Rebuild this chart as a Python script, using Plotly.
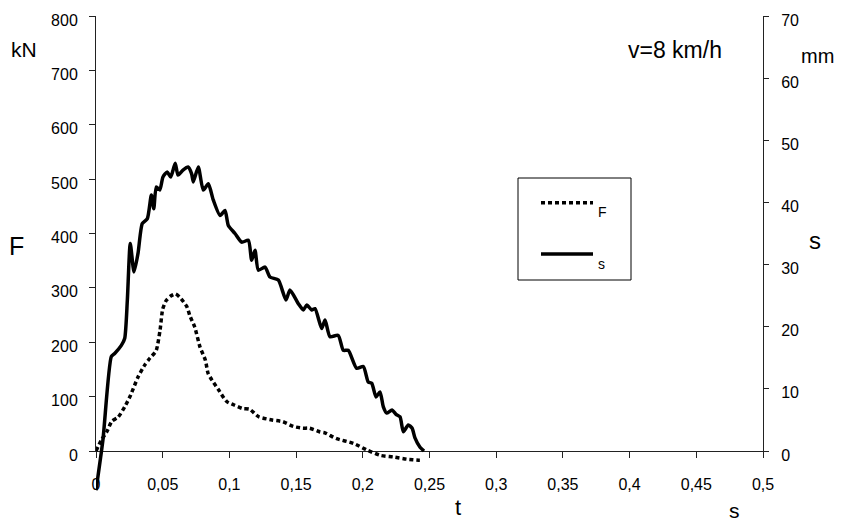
import plotly.graph_objects as go

# idő (s) és erő (kN) - szaggatott görbe
t_F = [0, 0.004, 0.008, 0.012, 0.0165, 0.0215, 0.026, 0.0315, 0.0365, 0.0405,
       0.045, 0.048, 0.050, 0.0527, 0.056, 0.0596, 0.0627, 0.068, 0.0705, 0.074,
       0.078, 0.082, 0.084, 0.087, 0.092, 0.098, 0.104, 0.110, 0.115, 0.122,
       0.132, 0.140, 0.148, 0.155, 0.160, 0.168, 0.172, 0.180, 0.193, 0.203,
       0.213, 0.223, 0.233, 0.242, 0.245]
F_kN = [0, 20, 35, 55, 62, 81, 103, 136, 158, 171,
        184, 222, 261, 277, 285, 289, 283, 266, 248, 228,
        191, 167, 143, 130, 112, 91, 84, 78, 77, 63,
        57, 54, 45, 42, 42, 35, 33, 23, 14, 2,
        -8, -11, -15, -17, -17]

# idő (s) és elmozdulás (mm) - folytonos görbe
t_s = [0, 0.0052, 0.0115, 0.014, 0.019, 0.0215, 0.0235, 0.0257, 0.0285, 0.0315,
       0.0347, 0.0385, 0.0415, 0.0433, 0.0452, 0.0478, 0.0502, 0.0534, 0.056, 0.0594,
       0.0615, 0.0652, 0.069, 0.0717, 0.0729, 0.0767, 0.0804, 0.0842, 0.0879, 0.093,
       0.0967, 0.0992, 0.1042, 0.1092, 0.1142, 0.1167, 0.1192, 0.1217, 0.1267, 0.1304,
       0.1367, 0.1424, 0.1454, 0.1517, 0.1554, 0.158, 0.1617, 0.1642, 0.1692, 0.1717,
       0.1754, 0.1816, 0.1854, 0.1891, 0.1954, 0.2004, 0.2041, 0.2067, 0.2099, 0.2129,
       0.2154, 0.2179, 0.2219, 0.2249, 0.2279, 0.2304, 0.2341, 0.2369, 0.2391, 0.2429,
       0.2459]
s_mm = [-6.3, 1.8, 15.2, 15.7, 17.0, 18.1, 24.3, 33.4, 28.8, 31.8,
        36.6, 37.4, 41.2, 39.0, 42.5, 42.0, 44.1, 44.9, 44.1, 46.3,
        44.4, 45.2, 45.7, 44.6, 43.3, 45.7, 42.0, 43.0, 40.4, 37.9,
        38.7, 36.3, 35.0, 33.6, 33.9, 30.7, 32.3, 29.1, 29.6, 28.0,
        27.5, 24.3, 25.9, 23.7, 22.7, 23.5, 22.7, 22.9, 19.7, 21.1,
        18.4, 18.6, 16.2, 16.2, 13.3, 13.6, 11.1, 10.9, 8.7, 9.5,
        7.1, 6.1, 6.6, 5.9, 5.5, 3.1, 4.2, 3.7, 2.1, 0.6,
        0]

# tengely feliratok
x_ticks = [0, 0.05, 0.1, 0.15, 0.2, 0.25, 0.3, 0.35, 0.4, 0.45, 0.5]
x_ticktext = ["0", "0,05", "0,1", "0,15", "0,2", "0,25", "0,3", "0,35", "0,4", "0,45", "0,5"]
F_ticks = [0, 100, 200, 300, 400, 500, 600, 700, 800]
s_ticks = [0, 10, 20, 30, 40, 50, 60, 70]

# az oldal 8px-es body margója miatt kisebb ábra, hogy ne legyen görgetősáv
OFF = 8
W, H = 842 - OFF, 530 - 2 * OFF
ML, MT = 96 - OFF, 16 - OFF
MR = W - (763 - OFF)
MB = H - (500 - OFF)
PW, PH = W - ML - MR, H - MT - MB
zero_px = 451 - OFF  # a nulla szint helye
d0 = (H - MB - zero_px) / PH


def px(x, y):
    # oldal-pixel -> paper koordináta
    return (x - OFF - ML) / PW, (H - MB - (y - OFF)) / PH


FONT = "Arial, Liberation Sans, sans-serif"

fig = go.Figure()

fig.add_trace(go.Scatter(
    x=t_F, y=F_kN, name="<br>F", mode="lines",
    line=dict(color="black", width=3.5, dash="4px,3px", shape="spline", smoothing=0.6),
    xaxis="x", yaxis="y3", legendgroup="F"
))
fig.add_trace(go.Scatter(
    x=t_s, y=s_mm, name="<br>s", mode="lines",
    line=dict(color="black", width=3.5, shape="spline", smoothing=0.6),
    xaxis="x", yaxis="y4", legendgroup="s"
))
# üres nyomok, hogy a látható tengelyek megjelenjenek
fig.add_trace(go.Scatter(x=[], y=[], xaxis="x", yaxis="y", showlegend=False, hoverinfo="skip"))
fig.add_trace(go.Scatter(x=[], y=[], xaxis="x", yaxis="y2", showlegend=False, hoverinfo="skip"))

ax_line = dict(showline=True, linecolor="#222", linewidth=1, showgrid=False,
               zeroline=False, ticks="outside", tickcolor="#222",
               ticklabeloverflow="allow", automargin=False,
               tickfont=dict(family=FONT, size=16, color="black"))

fig.update_layout(
    width=W, height=H,
    margin=dict(l=ML, r=MR, t=MT, b=MB),
    plot_bgcolor="rgba(0,0,0,0)", paper_bgcolor="white",
    font=dict(family=FONT, color="black"),
    xaxis=dict(domain=[0, 1], range=[0, 0.5], anchor="y",
               tickvals=x_ticks, ticktext=x_ticktext, ticklen=6,
               ticklabelstandoff=13, **ax_line),
    yaxis=dict(domain=[d0, 1], range=[0, 800], anchor="x", side="left",
               tickvals=F_ticks, ticklen=6, ticklabelstandoff=8,
               ticklabelshift=4, **ax_line),
    yaxis2=dict(overlaying="y", range=[0, 70], anchor="x", side="right",
                tickvals=s_ticks, ticklen=5, ticklabelstandoff=9,
                ticklabelshift=4, **ax_line),
    yaxis3=dict(domain=[0, 1], range=[800 - 800 / (1 - d0), 800], anchor="x",
                visible=False, automargin=False),
    yaxis4=dict(overlaying="y3", range=[70 - 70 / (1 - d0), 70], anchor="x",
                visible=False, automargin=False),
    legend=dict(x=px(536, 0)[0], y=px(0, 178)[1], xanchor="left", yanchor="top",
                borderwidth=0, bgcolor="rgba(0,0,0,0)",
                font=dict(family=FONT, size=14), itemwidth=52,
                tracegroupgap=12, valign="middle"),
    showlegend=True,
)

# jelmagyarázat kerete
bx0, by0 = px(518, 280)
bx1, by1 = px(631, 178)
fig.add_shape(type="rect", xref="paper", yref="paper", x0=bx0, y0=by0, x1=bx1, y1=by1,
              line=dict(color="black", width=1), fillcolor="rgba(0,0,0,0)", layer="below")

labels = [
    ("kN", 24, 50, 21),
    ("F", 16, 246, 25),
    ("mm", 817, 56, 20),
    ("s", 815, 241, 24),
    ("v=8 km/h", 675, 50, 23),
    ("t", 458, 507, 22),
    ("s", 734, 510, 21),
]
for txt, lx, ly, fs in labels:
    ax, ay = px(lx, ly)
    fig.add_annotation(x=ax, y=ay, xref="paper", yref="paper", text=txt,
                       showarrow=False, xanchor="center", yanchor="middle",
                       font=dict(family=FONT, size=fs, color="black"))

fig.write_html("out.html")
